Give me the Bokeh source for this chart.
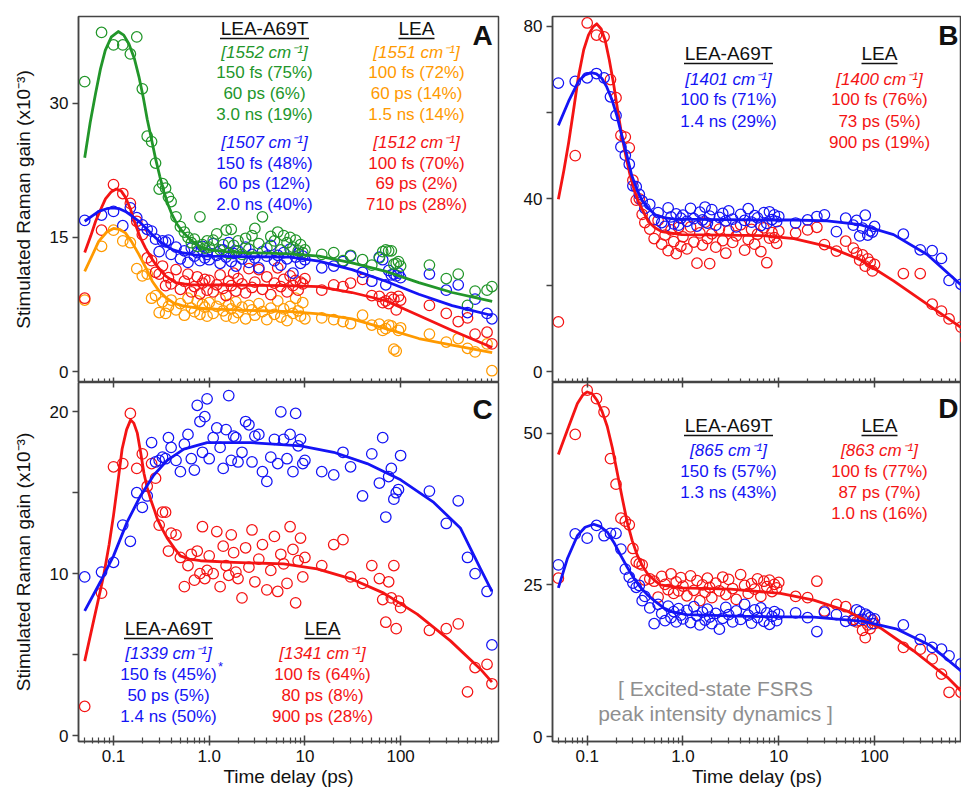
import math
from bokeh.plotting import figure
from bokeh.models import Range1d, FixedTicker, Label, LogAxis, CustomJSTickFormatter, CustomLabelingPolicy
from bokeh.layouts import gridplot
from bokeh.embed import file_html
from bokeh.resources import INLINE

FONT = "Liberation Sans"
GREEN = "#22962a"
ORANGE = "#ff9a00"
BLUE = "#1414f5"
RED = "#f41414"
AXIS = "#444444"
INK = "#111111"
GRAY = "#8f8f8f"

# ---------------- data ----------------
delay_ps = [0.05, 0.075, 0.1, 0.125, 0.15, 0.175, 0.2, 0.225, 0.25, 0.275,
            0.3, 0.325, 0.35, 0.375, 0.4, 0.45, 0.5, 0.55, 0.6, 0.65,
            0.7, 0.75, 0.8, 0.85, 0.9, 0.95,
            1.0, 1.1, 1.2, 1.3, 1.4, 1.5, 1.6, 1.7, 1.8, 1.9,
            2.0, 2.2, 2.4, 2.6, 2.8, 3.0, 3.3, 3.6, 4.0, 4.4,
            4.8, 5.2, 5.6, 6.0, 6.5, 7.0, 7.5, 8.0, 8.5, 9.0,
            9.5, 10,
            15, 20, 25, 30, 40, 50, 60, 65, 70, 75,
            80, 85, 90, 95, 100, 200, 300, 400, 500, 600,
            800, 900]

# Panel A
a_a69t_1552 = [32.4, 37.9, 36.5, 36.5, 35.5, 37.4, 31.6, 26.3, 25.7, 23.3,
               20.4, 21.0, 20.5, 19.5, 19.0, 17.3, 16.2, 15.6, 15.0, 14.4,
               14.8, 14.0, 17.3, 14.2, 13.8, 14.6,
               13.9, 14.7, 15.4, 13.6, 14.2, 15.8, 13.2, 15.9, 14.1, 13.5,
               14.6, 13.1, 14.9, 13.7, 15.2, 16.0, 14.3, 17.3, 13.8, 15.1,
               14.6, 15.6, 13.6, 15.2, 14.4, 15.0, 13.9, 14.7, 13.5, 14.2,
               13.3, 13.6,
               13.1, 13.3, 12.4, 13.0, 12.5, 11.9, 12.7, 13.4, 13.6, 13.5,
               13.5, 12.0, 12.1, 12.3, 11.8, 11.9, 10.4, 10.9, 7.4, 9.0,
               9.1, 9.5]
a_a69t_1507 = [16.9, 17.5, 17.9, 16.3, 18.3, 17.2, 16.4, 15.9, 15.7, 14.8,
               13.4, 14.6, 14.5, 14.7, 13.1, 13.9, 12.6, 13.5, 12.2, 13.8,
               12.9, 13.3, 12.4, 14.0, 12.7, 13.1,
               12.5, 14.3, 13.0, 12.1, 13.6, 12.8, 14.4, 12.3, 13.2, 11.8,
               13.5, 12.6, 13.9, 12.2, 13.1, 12.7, 11.6, 13.4, 12.9, 14.1,
               12.4, 13.0, 11.9, 13.3, 12.6, 13.7, 11.0, 12.8, 13.2, 12.1,
               12.9, 12.5,
               11.6, 11.8, 12.3, 12.9, 11.1, 10.1, 12.8, 12.5, 9.7, 11.3,
               10.8, 10.9, 10.7, 11.0, 10.5, 10.9, 9.1, 9.7, 6.6, 8.1,
               6.5, 5.9]
a_lea_1512 = [8.2, 15.8, 20.9, 19.9, 18.8, 16.8, 15.3, 12.7, 12.4, 11.1,
              10.9, 11.8, 9.6, 10.5, 9.8, 11.4, 9.2, 10.1, 10.9, 8.9,
              9.5, 10.6, 8.7, 9.9, 10.3, 9.1,
              10.2, 8.9, 9.7, 10.8, 9.3, 8.5, 10.1, 9.6, 11.0, 9.0,
              10.4, 9.8, 8.8, 11.5, 9.4, 10.0, 11.4, 9.2, 10.6, 8.6,
              9.9, 11.6, 9.5, 10.3, 8.9, 10.7, 9.6, 10.2, 9.1, 10.0,
              9.8, 10.4,
              9.1, 9.7, 9.5, 9.9, 10.3, 8.5, 8.4, 7.7, 7.9, 7.6,
              8.3, 8.1, 6.9, 8.4, 8.0, 7.4, 6.5, 5.6, 6.0, 4.2,
              4.4, 3.1]
a_lea_1551 = [8.0, 14.0, 15.8, 14.6, 14.4, 11.5, 10.7, 10.9, 8.2, 8.5,
              6.6, 7.8, 6.5, 7.3, 8.0, 6.9, 7.6, 6.3, 8.2, 7.1,
              6.7, 7.9, 6.4, 7.5, 7.2, 6.2,
              7.7, 6.5, 7.3, 8.1, 6.8, 6.2, 7.5, 7.0, 6.0, 7.8,
              6.6, 7.2, 5.9, 7.4, 6.9, 6.3, 7.6, 6.7, 5.8, 7.1,
              6.4, 7.9, 6.1, 7.0, 5.7, 7.3, 6.5, 8.2, 6.8, 6.2,
              7.7, 5.9,
              6.0, 5.8, 5.6, 5.35, 6.3, 5.2, 5.3, 4.6, 4.8, 5.2,
              5.1, 2.5, 2.3, 4.6, 4.9, 4.2, 3.3, 3.7, 2.6, 2.2,
              3.1, 0.1]

fit_a_1552_t = [0.05, 0.057, 0.065, 0.073, 0.082, 0.095, 0.112, 0.128, 0.145, 0.165,
                0.184, 0.205, 0.225, 0.25, 0.275, 0.305, 0.336, 0.37, 0.41, 0.46,
                0.52, 0.59, 0.66, 0.8, 1.0, 1.5, 2.2, 4, 7, 14, 31, 70, 155, 346, 905]
fit_a_1552_y = [23.9, 27.8, 31.1, 33.8, 35.9, 37.4, 38.0, 37.6, 36.6, 35.0,
                33.0, 30.6, 28.2, 25.9, 23.8, 21.8, 20.1, 18.7, 17.5, 16.5,
                15.7, 15.1, 14.6, 14.0, 13.6, 13.4, 13.3, 13.25, 13.15, 12.9, 12.15, 11.2, 9.95, 8.84, 7.85]
fit_a_1507_t = [0.05, 0.06, 0.07, 0.085, 0.097, 0.115, 0.133, 0.155, 0.184, 0.22,
                0.254, 0.3, 0.349, 0.42, 0.52, 0.7, 0.99, 2, 7, 14, 31, 70, 155, 346, 905]
fit_a_1507_y = [16.8, 17.4, 17.9, 18.2, 18.3, 18.2, 17.9, 17.4, 16.8, 16.0,
                15.3, 14.6, 14.1, 13.6, 13.3, 13.05, 12.9, 12.85, 12.8, 12.35, 11.4, 10.1, 8.65, 7.37, 6.27]
fit_a_1512_t = [0.05, 0.058, 0.065, 0.074, 0.0824, 0.095, 0.107, 0.12, 0.133, 0.15,
                0.17, 0.19, 0.216, 0.245, 0.275, 0.31, 0.349, 0.395, 0.445, 0.55,
                0.664, 1.48, 6.3, 14, 31, 70, 155, 346, 905]
fit_a_1512_y = [13.3, 15.2, 16.8, 18.2, 19.3, 20.1, 20.4, 20.2, 19.5, 18.2,
                16.4, 15.0, 13.8, 12.8, 12.0, 11.3, 10.7, 10.3, 9.95, 9.8,
                9.7, 9.68, 9.6, 9.5, 8.84, 7.92, 6.27, 4.6, 2.69]
fit_a_1551_t = [0.05, 0.06, 0.07, 0.085, 0.1, 0.115, 0.133, 0.155, 0.184, 0.22,
                0.254, 0.3, 0.349, 0.42, 0.522, 0.7, 0.99, 2.5, 7, 14, 31, 70, 155, 346, 905]
fit_a_1551_y = [11.2, 13.0, 14.55, 15.6, 16.0, 15.9, 15.5, 14.5, 13.1, 11.5,
                10.1, 9.0, 8.3, 7.7, 7.37, 7.15, 7.0, 6.85, 6.7, 6.45, 5.9, 4.8, 3.7, 2.95, 2.13]

# Panel B
b_a69t_1401 = [66.8, 67.2, 68.0, 69.0, 68.0, 63.6, 59.3, 52.0, 50.1, 48.0,
               43.0, 42.8, 41.0, 39.5, 37.8, 38.7, 35.2, 36.8, 34.5, 33.6,
               37.9, 35.8, 34.2, 36.5, 33.9, 35.5,
               36.2, 34.8, 37.8, 35.4, 33.7, 36.9, 35.1, 38.1, 34.4, 36.0,
               37.5, 33.9, 35.7, 36.6, 34.9, 37.2, 35.3, 33.5, 36.4, 35.0,
               37.7, 34.6, 36.1, 35.6, 33.8, 36.8, 34.3, 37.0, 35.2, 36.3,
               34.7, 35.9,
               34.4, 35.1, 35.9, 36.3, 32.4, 35.5, 33.9, 35.0, 31.4, 33.2,
               36.2, 31.6, 32.6, 32.3, 33.6, 31.8, 28.2, 28.0, 26.2, 21.1,
               20.2, 19.0]
b_lea_1400 = [11.5, 50.0, 80.7, 77.9, 77.5, 67.6, 63.4, 54.7, 54.3, 51.8,
              44.3, 39.7, 40.0, 36.4, 34.5, 33.0, 30.8, 35.0, 29.5, 31.6,
              28.0, 32.8, 30.1, 27.3, 33.4, 29.0,
              31.2, 28.4, 33.5, 30.0, 25.1, 32.1, 29.3, 34.6, 30.8, 25.0,
              31.9, 28.8, 33.0, 30.3, 27.4, 32.6, 29.9, 31.4, 34.0, 28.1,
              30.6, 32.9, 29.5, 31.8, 27.8, 33.3, 25.2, 30.9, 32.2, 31.0,
              29.7, 32.5,
              32.1, 32.8, 33.4, 29.4, 27.9, 30.2, 28.6, 27.5, 25.8, 27.0,
              24.4, 26.1, 25.3, 23.3, 24.8, 22.7, 22.7, 15.6, 14.0, 12.2,
              10.3, 7.4]

fit_b_1401_t = [0.05, 0.064, 0.081, 0.095, 0.11, 0.125, 0.142, 0.16, 0.181, 0.205,
                0.23, 0.26, 0.292, 0.33, 0.372, 0.44, 0.513, 0.65, 0.83, 2.5,
                6.9, 14.4, 32, 71, 158, 354, 789, 900]
fit_b_1401_y = [57.0, 62.6, 67.2, 68.7, 69.2, 68.9, 67.9, 65.9, 63.0, 59.1,
                54.6, 50.0, 45.4, 42.2, 39.7, 37.7, 36.3, 35.6, 35.3, 35.2,
                35.1, 35.1, 34.9, 34.0, 31.7, 27.1, 20.2, 19.0]
fit_b_1400_t = [0.05, 0.057, 0.064, 0.072, 0.081, 0.092, 0.103, 0.115, 0.126, 0.14,
                0.154, 0.17, 0.188, 0.208, 0.23, 0.255, 0.281, 0.31, 0.343, 0.39,
                0.436, 0.51, 0.6, 0.97, 2.5, 6.9, 14.4, 32, 71, 158, 354, 789, 900]
fit_b_1400_y = [39.9, 46.5, 53.0, 60.5, 68.3, 74.5, 77.9, 79.8, 80.5, 79.3,
                76.7, 72.2, 66.8, 60.5, 54.6, 49.6, 45.4, 42.0, 39.3, 36.8,
                34.7, 33.3, 32.4, 31.7, 31.6, 31.5, 30.8, 29.0, 25.9, 21.0, 15.6, 10.3, 9.4]

# Panel C
c_a69t_1339 = [9.8, 10.1, 10.7, 13.0, 12.0, 15.0, 14.1, 14.8, 18.1, 16.9,
               17.0, 17.2, 17.1, 18.4, 17.8, 17.0, 16.3, 18.0, 18.6, 17.1,
               16.4, 20.4, 19.4, 17.5, 19.7, 20.8,
               17.1, 18.4, 19.0, 17.8, 16.5, 18.9, 21.0, 17.0, 18.5, 18.4,
               16.9, 17.5, 19.4, 19.2, 16.9, 18.5, 18.6, 16.3, 15.7, 17.2,
               18.3, 16.8, 20.0, 18.3, 17.1, 18.6, 16.3, 19.9, 17.9, 18.3,
               16.8, 17.0,
               16.3, 16.1, 17.5, 16.6, 14.8, 17.4, 15.6, 18.4, 13.5, 16.0,
               16.5, 14.6, 15.0, 15.2, 17.3, 15.1, 13.1, 14.5, 11.0, 10.0,
               8.9, 5.6]
c_lea_1341 = [1.8, 8.8, 16.6, 16.8, 19.9, 16.5, 17.4, 15.4, 16.8, 15.9,
              13.0, 13.8, 13.8, 11.4, 12.5, 12.4, 11.0, 9.2, 10.5, 11.2,
              9.6, 11.4, 10.0, 12.9, 9.7, 10.2,
              11.1, 10.0, 12.6, 9.2, 11.7, 10.5, 9.9, 12.4, 11.3, 10.1,
              9.7, 8.5, 11.6, 10.4, 12.7, 9.5, 10.9, 11.8, 9.0, 10.2,
              12.3, 8.9, 11.2, 10.6, 9.4, 12.9, 11.5, 8.2, 10.8, 12.2,
              9.8, 11.0,
              10.5, 11.8, 12.1, 9.8, 9.4, 10.5, 9.7, 8.4, 7.0, 9.5,
              8.5, 10.5, 6.6, 8.3, 7.9, 6.5, 6.6, 6.9, 2.7, 4.2,
              4.4, 3.2]

fit_c_1339_t = [0.05, 0.073, 0.1, 0.139, 0.191, 0.264, 0.364, 0.543, 0.95, 2.7,
                9.0, 20, 44.7, 100, 222, 423, 684, 900]
fit_c_1339_y = [7.7, 9.5, 11.1, 13.2, 14.8, 16.1, 17.0, 17.7, 18.1, 18.1,
                17.9, 17.5, 16.8, 15.8, 14.4, 12.8, 10.3, 8.9]
fit_c_1341_t = [0.05, 0.062, 0.07, 0.079, 0.09, 0.1, 0.112, 0.123, 0.137, 0.151,
                0.163, 0.177, 0.192, 0.208, 0.225, 0.244, 0.265, 0.286, 0.32, 0.364,
                0.43, 0.5, 0.62, 0.81, 1.81, 6.0, 13.4, 29.9, 66.7, 149, 332, 684, 900]
fit_c_1341_y = [4.6, 7.1, 8.5, 9.9, 11.8, 13.6, 15.8, 17.7, 18.9, 19.5,
                19.3, 18.7, 17.5, 16.2, 15.3, 14.6, 14.0, 13.4, 12.8, 12.2,
                11.6, 11.1, 10.9, 10.8, 10.7, 10.6, 10.3, 9.7, 8.8, 7.5, 5.85, 4.1, 3.3]

# Panel D
d_a69t_865 = [28.3, 33.4, 32.7, 34.8, 33.1, 33.5, 33.5, 30.9, 27.6, 26.3,
              25.3, 24.6, 24.9, 22.4, 23.1, 21.2, 18.6, 21.8, 20.3, 19.1,
              21.5, 19.6, 20.6, 18.9, 21.1, 20.0,
              19.4, 20.8, 18.8, 21.4, 19.9, 18.4, 20.5, 19.2, 21.0, 19.7,
              18.6, 20.3, 17.7, 19.5, 21.3, 20.1, 18.9, 20.7, 19.3, 21.8,
              20.0, 18.7, 20.9, 19.6, 21.2, 19.0, 20.4, 18.5, 19.8, 20.6,
              19.1, 20.2,
              20.4, 19.6, 17.3, 20.5, 20.1, 19.0, 19.1, 20.9, 20.6, 19.3,
              20.2, 19.9, 19.6, 18.6, 19.4, 18.4, 16.0, 14.7, 14.4, 13.3,
              12.0, 9.8]
d_lea_863 = [26.1, 49.8, 57.1, 55.7, 53.5, 45.8, 41.6, 36.0, 35.5, 34.9,
             31.0, 28.8, 28.5, 28.3, 25.8, 26.0, 25.6, 23.0, 26.4, 25.1,
             24.2, 26.8, 23.6, 25.5, 24.0, 26.2,
             24.8, 23.2, 26.5, 24.1, 25.7, 22.4, 25.0, 23.8, 26.1, 24.6,
             22.9, 25.3, 24.0, 26.3, 23.4, 25.9, 24.4, 22.6, 26.7, 24.9,
             23.6, 25.2, 24.3, 26.0, 23.1, 25.6, 24.7, 25.8, 23.9, 25.1,
             24.5, 25.4,
             23.1, 22.9, 25.6, 20.7, 21.8, 21.4, 19.3, 18.9, 19.1, 17.5,
             16.3, 18.4, 17.8, 19.2, 18.6, 14.7, 14.4, 12.8, 10.3, 7.3,
             7.3, 6.4]

fit_d_865_t = [0.05, 0.062, 0.079, 0.095, 0.117, 0.138, 0.162, 0.19, 0.223, 0.262,
               0.307, 0.36, 0.423, 0.52, 0.63, 0.8, 1.1, 4.68, 23.2, 77, 172, 384, 789, 900]
fit_d_865_y = [24.5, 29.3, 33.1, 34.5, 35.0, 34.6, 33.7, 32.0, 29.9, 27.9,
               26.1, 24.6, 23.4, 22.2, 21.2, 20.5, 20.1, 19.8, 19.7, 19.0, 17.7, 15.0, 10.9, 10.0]
fit_d_863_t = [0.05, 0.062, 0.079, 0.09, 0.1, 0.113, 0.127, 0.143, 0.162, 0.183,
               0.206, 0.233, 0.262, 0.295, 0.333, 0.375, 0.423, 0.5, 0.582, 0.94,
               3.13, 10.4, 23.2, 51.8, 115, 257, 573, 789, 900]
fit_d_863_y = [46.5, 50.5, 54.9, 56.3, 56.8, 56.5, 55.4, 53.6, 51.1, 47.6,
               43.5, 39.2, 35.3, 32.3, 29.9, 28.2, 26.9, 25.8, 25.0, 24.5,
               24.3, 23.6, 22.5, 20.7, 17.9, 14.1, 9.8, 7.6, 7.0]

# texts
x_title = "Time delay (ps)"
y_title = "Stimulated Raman gain (x10\u207b\u00b3)"
head_left = "LEA-A69T"
head_right = "LEA"
a_left = ["[1552 cm\u207b\u00b9]", "150 fs (75%)", "60 ps (6%)", "3.0 ns (19%)",
          "[1507 cm\u207b\u00b9]", "150 fs (48%)", "60 ps (12%)", "2.0 ns (40%)"]
a_right = ["[1551 cm\u207b\u00b9]", "100 fs (72%)", "60 ps (14%)", "1.5 ns (14%)",
           "[1512 cm\u207b\u00b9]", "100 fs (70%)", "69 ps (2%)", "710 ps (28%)"]
b_left = ["[1401 cm\u207b\u00b9]", "100 fs (71%)", "1.4 ns (29%)"]
b_right = ["[1400 cm\u207b\u00b9]", "100 fs (76%)", "73 ps (5%)", "900 ps (19%)"]
c_left = ["[1339 cm\u207b\u00b9]", "150 fs (45%)", "50 ps (5%)", "1.4 ns (50%)"]
c_right = ["[1341 cm\u207b\u00b9]", "100 fs (64%)", "80 ps (8%)", "900 ps (28%)"]
d_left = ["[865 cm\u207b\u00b9]", "150 fs (57%)", "1.3 ns (43%)"]
d_right = ["[863 cm\u207b\u00b9]", "100 fs (77%)", "87 ps (7%)", "1.0 ns (16%)"]
d_note = ["[ Excited-state FSRS", "peak intensity dynamics ]"]

# ---------------- layout helpers ----------------
MAJOR = [0.1, 1, 10, 100]
MINOR = [m * 10.0 ** e for e in range(-2, 3) for m in range(2, 10)]

X_LEFT = (0.04307, 1054.0)
X_RIGHT = (0.04343, 809.0)


def style_hidden_labels(ax):
    ax.major_label_text_font_size = "1px"
    ax.major_label_text_color = None
    ax.major_label_standoff = 0
    ax.major_label_policy = CustomLabelingPolicy(code="return new Set()")


def make_panel(xr, yr, fw, fh, bl, br, bt, bottom, ymajor, yminor, ylabel):
    p = figure(x_axis_type="log", x_range=Range1d(*xr), y_range=Range1d(*yr),
               frame_width=fw, frame_height=fh,
               min_border_left=bl, min_border_right=br, min_border_top=bt, min_border_bottom=0,
               output_backend="svg", toolbar_location=None)
    p.grid.grid_line_color = None
    p.outline_line_color = AXIS
    p.outline_line_width = 1.5
    p.background_fill_color = "white"
    p.border_fill_color = "white"

    xa = p.xaxis[0]
    xa.ticker = FixedTicker(ticks=MAJOR, minor_ticks=MINOR)
    xa.axis_line_color = AXIS
    xa.axis_line_width = 1.5
    xa.major_tick_line_color = AXIS
    xa.minor_tick_line_color = AXIS
    xa.major_tick_line_width = 1.5
    xa.minor_tick_line_width = 1.2
    if bottom:
        xa.formatter = CustomJSTickFormatter(code="""
            if (tick < 0.5) { return tick.toFixed(1); }
            if (tick < 5) { return "1.0"; }
            return tick.toFixed(0);
        """)
        xa.major_tick_in = 6
        xa.major_tick_out = 4
        xa.minor_tick_in = 4
        xa.minor_tick_out = 2
        xa.major_label_text_font = FONT
        xa.major_label_text_font_size = "17px"
        xa.major_label_text_color = INK
        xa.major_label_standoff = 4
        xa.axis_label = x_title
        xa.axis_label_text_font = FONT
        xa.axis_label_text_font_size = "19px"
        xa.axis_label_text_font_style = "normal"
        xa.axis_label_text_color = INK
        xa.axis_label_standoff = 1
    else:
        xa.major_tick_in = 5
        xa.major_tick_out = 0
        xa.minor_tick_in = 4
        xa.minor_tick_out = 0
        style_hidden_labels(xa)

    ya = p.yaxis[0]
    ya.ticker = FixedTicker(ticks=ymajor, minor_ticks=yminor)
    ya.axis_line_color = AXIS
    ya.axis_line_width = 1.5
    ya.major_tick_line_color = AXIS
    ya.minor_tick_line_color = AXIS
    ya.major_tick_line_width = 1.5
    ya.minor_tick_line_width = 1.5
    ya.major_tick_in = 0
    ya.major_tick_out = 6
    ya.minor_tick_in = 0
    ya.minor_tick_out = 6
    ya.major_label_text_font = FONT
    ya.major_label_text_font_size = "17px"
    ya.major_label_text_color = INK
    ya.major_label_standoff = 4
    if ylabel:
        ya.axis_label = ylabel
        ya.axis_label_text_font = FONT
        ya.axis_label_text_font_size = "19px"
        ya.axis_label_text_font_style = "normal"
        ya.axis_label_text_color = INK
        ya.axis_label_standoff = 13
    return p


def frame_to_data(info, fx, fy):
    (x0, x1), (y0, y1), fw, fh = info
    lx0, lx1 = math.log10(x0), math.log10(x1)
    t = 10 ** (lx0 + fx / fw * (lx1 - lx0))
    y = y1 - fy / fh * (y1 - y0)
    return t, y


def put(p, info, fx, fy, text, color, size, style="normal", align="center"):
    t, y = frame_to_data(info, fx, fy)
    p.add_layout(Label(x=t, y=y, text=text, text_color=color, text_font=FONT,
                       text_font_size=f"{size}px", text_font_style=style,
                       text_align=align, text_baseline="middle"))


def header(p, info, fx, fy, text, width):
    put(p, info, fx, fy, text, INK, 19)
    ta, ya = frame_to_data(info, fx - width / 2, fy + 10)
    tb, _ = frame_to_data(info, fx + width / 2, fy + 10)
    p.segment(x0=[ta], y0=[ya], x1=[tb], y1=[ya], line_color=INK, line_width=1.3)


def column_text(p, info, fx, fys, texts, colors):
    for fy, txt, col in zip(fys, texts, colors):
        style = "italic" if txt.startswith("[") else "normal"
        put(p, info, fx, fy, txt, col, 17, style)


def dots(p, vals, color):
    p.scatter(x=delay_ps[:len(vals)], y=vals, marker="circle", size=10.5,
              fill_color=None, line_color=color, line_width=1.25)


def curve(p, t, y, color):
    p.line(x=t, y=y, line_color=color, line_width=2.8, line_join="round")


FW_L, FW_R = 420, 409
FH_T, FH_B = 366, 359

YA = (-1.216, 39.68)
YB = (-2.52, 82.2)
YC = (-0.367, 21.81)
YD = (-0.815, 58.36)

pA = make_panel(X_LEFT, YA, FW_L, FH_T, 78, 20, 16, False, [0, 15, 30], [], y_title)
pB = make_panel(X_RIGHT, YB, FW_R, FH_T, 34, 0, 16, False, [0, 40, 80], [20, 60], None)
pC = make_panel(X_LEFT, YC, FW_L, FH_B, 78, 20, 0, True, [0, 10, 20], [5, 15], y_title)
pD = make_panel(X_RIGHT, YD, FW_R, FH_B, 34, 0, 0, True, [0, 25, 50], [], None)

# crossing ticks below the upper panels
for pp in (pC, pD):
    top_ax = LogAxis(ticker=FixedTicker(ticks=MAJOR, minor_ticks=[]),
                     major_tick_in=5, major_tick_out=0, minor_tick_in=0, minor_tick_out=0,
                     axis_line_color=None, major_tick_line_color=AXIS, major_tick_line_width=1.5)
    style_hidden_labels(top_ax)
    pp.add_layout(top_ax, "above")

iA = (X_LEFT, YA, FW_L, FH_T)
iB = (X_RIGHT, YB, FW_R, FH_T)
iC = (X_LEFT, YC, FW_L, FH_B)
iD = (X_RIGHT, YD, FW_R, FH_B)

# Panel A
dots(pA, a_lea_1551, ORANGE)
dots(pA, a_lea_1512, RED)
dots(pA, a_a69t_1507, BLUE)
dots(pA, a_a69t_1552, GREEN)
curve(pA, fit_a_1551_t, fit_a_1551_y, ORANGE)
curve(pA, fit_a_1512_t, fit_a_1512_y, RED)
curve(pA, fit_a_1507_t, fit_a_1507_y, BLUE)
curve(pA, fit_a_1552_t, fit_a_1552_y, GREEN)
header(pA, iA, 186, 12, head_left, 89)
header(pA, iA, 338, 12, head_right, 36)
rowsA = [36, 56, 77, 98, 126, 147, 167, 188]
column_text(pA, iA, 186, rowsA, a_left, [GREEN] * 4 + [BLUE] * 4)
column_text(pA, iA, 338, rowsA, a_right, [ORANGE] * 4 + [RED] * 4)
put(pA, iA, 404, 19, "A", INK, 28, "bold")

# Panel B
dots(pB, b_lea_1400, RED)
dots(pB, b_a69t_1401, BLUE)
curve(pB, fit_b_1400_t, fit_b_1400_y, RED)
curve(pB, fit_b_1401_t, fit_b_1401_y, BLUE)
header(pB, iB, 176, 37, head_left, 89)
header(pB, iB, 327, 37, head_right, 36)
column_text(pB, iB, 176, [63, 83, 105], b_left, [BLUE] * 3)
column_text(pB, iB, 327, [63, 83, 105, 126], b_right, [RED] * 4)
put(pB, iB, FW_R - 3, 19, "B", INK, 28, "bold", "right")

# Panel C
dots(pC, c_lea_1341, RED)
dots(pC, c_a69t_1339, BLUE)
curve(pC, fit_c_1341_t, fit_c_1341_y, RED)
curve(pC, fit_c_1339_t, fit_c_1339_y, BLUE)
header(pC, iC, 90, 246, head_left, 89)
header(pC, iC, 244, 246, head_right, 36)
column_text(pC, iC, 90, [271, 292, 313, 334], c_left, [BLUE] * 4)
put(pC, iC, 142, 284, "*", BLUE, 13)
column_text(pC, iC, 244, [271, 292, 313, 334], c_right, [RED] * 4)
put(pC, iC, 404, 27, "C", INK, 28, "bold")

# Panel D
dots(pD, d_lea_863, RED)
dots(pD, d_a69t_865, BLUE)
curve(pD, fit_d_863_t, fit_d_863_y, RED)
curve(pD, fit_d_865_t, fit_d_865_y, BLUE)
header(pD, iD, 176, 43, head_left, 89)
header(pD, iD, 327, 43, head_right, 36)
column_text(pD, iD, 176, [68, 89, 110], d_left, [BLUE] * 3)
column_text(pD, iD, 327, [68, 89, 110, 131], d_right, [RED] * 4)
put(pD, iD, 163, 306, d_note[0], GRAY, 21)
put(pD, iD, 163, 331, d_note[1], GRAY, 21)
put(pD, iD, FW_R - 3, 26, "D", INK, 28, "bold", "right")

grid = gridplot([[pA, pB], [pC, pD]], toolbar_location=None)

open("out.html", "w").write(file_html(grid, INLINE))
